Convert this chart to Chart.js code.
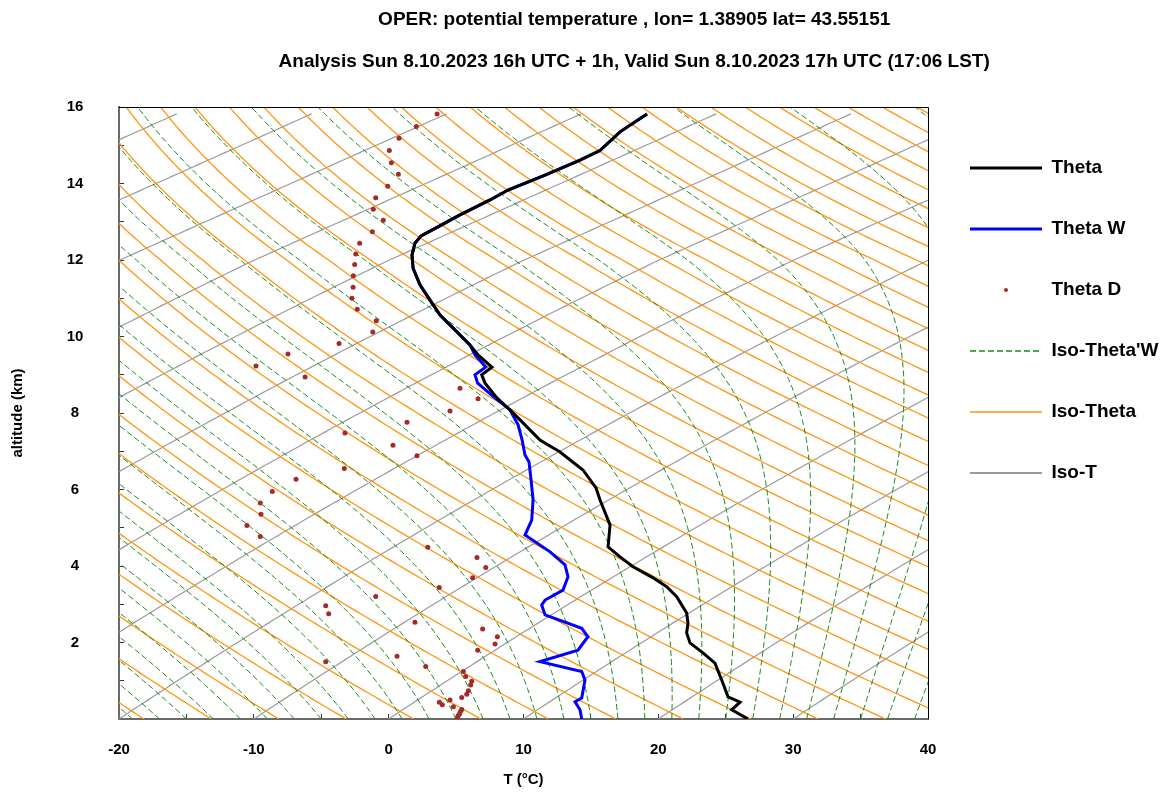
<!DOCTYPE html>
<html>
<head>
<meta charset="utf-8">
<title>OPER potential temperature</title>
<script src="https://cdn.jsdelivr.net/npm/chart.js@4.4.0/dist/chart.umd.min.js"></script>
<style>
  html, body { margin: 0; padding: 0; background: #fff; }
  #wrap { width: 1167px; height: 792px; }
</style>
</head>
<body>
<div id="wrap"><canvas id="chart" width="1167" height="792"></canvas></div>
<script>
// --- profiles (x in axis °C, altitude in km) ---
const thetaAlt = [0, 0.24, 0.44, 0.58, 1.02, 1.46, 1.73, 1.99, 2.25, 2.51, 2.77, 3.20, 3.46, 3.69, 3.98, 4.24, 4.50, 5.07, 5.73, 6.04, 6.51, 6.98, 7.29, 7.69, 8.08, 8.39, 8.78, 9.00, 9.20, 9.52, 9.78, 10.17, 10.56, 10.95, 11.35, 11.79, 12.13, 12.44, 12.63, 12.78, 13.18, 13.57, 13.83, 14.22, 14.61, 14.86, 15.35, 15.82];
const thetaVal = [26.65, 25.44, 26.06, 25.17, 24.70, 24.20, 23.31, 22.35, 22.10, 22.20, 22.10, 21.36, 20.62, 19.61, 18.12, 17.16, 16.27, 16.42, 15.67, 15.38, 14.41, 12.71, 11.22, 10.11, 9.00, 8.04, 7.15, 6.90, 7.66, 6.63, 6.03, 4.92, 3.81, 3.07, 2.32, 1.81, 1.73, 1.95, 2.40, 3.21, 5.29, 7.52, 8.85, 11.60, 14.19, 15.67, 17.16, 19.16];

const thetaWAlt = [0, 0.24, 0.45, 0.55, 1.02, 1.24, 1.50, 1.80, 2.15, 2.37, 2.72, 2.98, 3.11, 3.37, 3.72, 4.03, 4.37, 4.81, 5.20, 5.73, 6.25, 6.72, 6.90, 7.29, 7.69, 8.08, 8.39, 8.78, 9.00, 9.20, 9.52, 9.78, 10.17, 10.56, 10.95, 11.35, 11.79, 12.13, 12.44, 12.63, 12.78, 13.18, 13.57, 13.83, 14.22, 14.61, 14.86, 15.35, 15.82];
const thetaWVal = [14.32, 14.19, 13.82, 14.32, 14.56, 14.32, 11.22, 14.04, 14.78, 14.32, 11.60, 11.35, 11.60, 12.93, 13.30, 13.08, 11.97, 10.11, 10.61, 10.71, 10.56, 10.41, 10.11, 9.90, 9.60, 9.00, 7.90, 6.60, 6.40, 7.20, 6.40, 6.03, 4.92, 3.81, 3.07, 2.32, 1.81, 1.73, 1.95, 2.40, 3.21, 5.29, 7.52, 8.85, 11.60, 14.19, 15.67, 17.16, 19.16];

const thetaDAlt = [0, 0.04, 0.09, 0.14, 0.20, 0.25, 0.32, 0.37, 0.44, 0.50, 0.56, 0.65, 0.74, 0.89, 0.99, 1.11, 1.24, 1.37, 1.50, 1.64, 1.80, 1.96, 2.15, 2.35, 2.53, 2.75, 2.96, 3.20, 3.44, 3.69, 3.96, 4.22, 4.49, 4.77, 5.06, 5.35, 5.65, 5.95, 6.27, 6.55, 6.88, 7.16, 7.48, 7.76, 8.05, 8.37, 8.65, 8.94, 9.23, 9.54, 9.82, 10.12, 10.41, 10.71, 11.00, 11.29, 11.59, 11.88, 12.16, 12.44, 12.74, 13.04, 13.33, 13.63, 13.93, 14.24, 14.54, 14.86, 15.18, 15.49, 15.82];
const thetaDVal = [5.05, 5.10, 5.17, 5.26, 5.33, 5.42, 4.80, 3.98, 3.76, 4.55, 5.42, 5.79, 5.91, 6.08, 6.16, 5.71, 5.54, 2.75, -4.67, 0.62, 6.60, 7.89, 8.06, 6.97, 1.95, -4.45, -4.67, -0.96, 3.75, 6.23, 7.20, 6.55, 2.90, -9.52, -10.51, -9.47, -9.52, -8.63, -6.87, -3.29, 2.10, 0.32, -3.24, 1.36, 4.55, 6.63, 5.29, -6.20, -9.84, -7.47, -3.68, -1.18, -0.92, -2.33, -2.72, -2.64, -2.62, -2.52, -2.44, -2.15, -1.21, -0.40, -1.14, -0.96, -0.07, 0.72, 0.20, 0.05, 0.77, 2.05, 3.59];

// --- background isolines (values of each family) ---
const isoTValues = [-100, -90, -80, -70, -60, -50, -40, -30, -20, -10, 0, 10, 20, 30, 40];
const isoThetaValues = [250, 255, 260, 265, 270, 275, 280, 285, 290, 295, 300, 305, 310, 315, 320, 325, 330, 335, 340, 345, 350, 355, 360, 365, 370, 375, 380, 385, 390, 395, 400, 405, 410, 415, 420, 425, 430, 435, 440, 445];
const isoThetaWValues = [-19, -17, -15, -13, -11, -9, -7, -5, -3, -1, 1, 3, 5, 7, 9, 11, 13, 15, 17, 19, 21, 23, 25, 27, 29, 31, 33, 35, 37, 39];

const titleLines = [
  'OPER: potential temperature , lon= 1.38905 lat= 43.55151',
  'Analysis Sun 8.10.2023 16h UTC + 1h, Valid Sun 8.10.2023 17h UTC (17:06 LST)'
];

// --- diagram geometry: skewed axis, x = T + SKEW * ln(1000/p) ---
const G = 9.80665, RD = 287.05, CP = 1005.7, LV = 2.501e6, EPS = 0.622, KAPPA = RD / CP;
const SKEW = 36.2;
const Z_TROP = 12, T_STRAT = 195;

function lnP(z) {
  const zz = Math.min(z, Z_TROP);
  let v = -(G / (RD * 0.0065)) * Math.log(1 - 6.5 * zz / 288.15);
  if (z > Z_TROP) v += G * (z - Z_TROP) * 1000 / (RD * T_STRAT);
  return v;
}
const skew = z => SKEW * lnP(z);
const pres = z => 1000 * Math.exp(-lnP(z));

const zSteps = [];
for (let i = 0; i <= 160; i++) zSteps.push(i / 10);
const zTop = thetaAlt[thetaAlt.length - 1];

function dTdp(T, p) {
  const tc = T - 273.15;
  const es = 6.112 * Math.exp(17.67 * tc / (tc + 243.5));
  const rs = EPS * es / (p - es);
  return (RD * T + LV * rs) / (CP + LV * LV * rs * EPS / (RD * T * T)) / p;
}

function isoTLine(t) {
  const zs = zSteps.filter(z => z < zTop).concat([zTop]);
  return zs.map(z => ({x: t + skew(z), y: z}));
}
function isoThetaLine(th) {
  return zSteps.map(z => ({x: th * Math.exp(-KAPPA * lnP(z)) - 273.15 + skew(z), y: z}));
}
function isoThetaWLine(tw) {
  let T = tw + 273.15, p = 1000;
  const pts = [];
  zSteps.forEach(z => {
    const pz = pres(z), n = 6, h = (pz - p) / n;
    for (let i = 0; i < n; i++) {
      const k1 = dTdp(T, p);
      const k2 = dTdp(T + h * k1 / 2, p + h / 2);
      const k3 = dTdp(T + h * k2 / 2, p + h / 2);
      const k4 = dTdp(T + h * k3, p + h);
      T += h * (k1 + 2 * k2 + 2 * k3 + k4) / 6;
      p += h;
    }
    p = pz;
    pts.push({x: T - 273.15 + skew(z), y: z});
  });
  return pts;
}

const zip = (xs, ys) => xs.map((x, i) => ({x: x, y: ys[i]}));

const FONT = "'Liberation Sans', Arial, sans-serif";

const datasets = [
  {label: 'Theta', data: zip(thetaVal, thetaAlt), showLine: true, borderColor: '#000', borderWidth: 3, pointRadius: 0, pointStyle: 'line'},
  {label: 'Theta W', data: zip(thetaWVal, thetaWAlt), showLine: true, borderColor: '#0000ff', borderWidth: 3, pointRadius: 0, pointStyle: 'line'},
  {label: 'Theta D', data: zip(thetaDVal, thetaDAlt), showLine: false, pointRadius: 2.5, pointHoverRadius: 2.5, backgroundColor: '#a52a2a', borderWidth: 0, pointStyle: 'circle'}
];
isoThetaWValues.forEach((v, i) => datasets.push({
  label: "Iso-Theta'W", data: isoThetaWLine(v), showLine: true, borderColor: '#1a8a1a', borderWidth: 1,
  borderDash: [6, 3], pointRadius: 0, pointStyle: 'line', inLegend: i === 0, legendWidth: 1.5
}));
isoThetaValues.forEach((v, i) => datasets.push({
  label: 'Iso-Theta', data: isoThetaLine(v), showLine: true, borderColor: '#ff9512', borderWidth: 1.3,
  pointRadius: 0, pointStyle: 'line', inLegend: i === 0, legendWidth: 1.5
}));
isoTValues.forEach((v, i) => datasets.push({
  label: 'Iso-T', data: isoTLine(v), showLine: true, borderColor: '#9a9a9a', borderWidth: 1.2,
  pointRadius: 0, pointStyle: 'line', inLegend: i === 0, legendWidth: 2
}));

const dot = document.createElement('canvas');
dot.width = 6; dot.height = 6;
const dctx = dot.getContext('2d');
dctx.fillStyle = '#a52a2a';
dctx.beginPath(); dctx.arc(3, 3, 2, 0, Math.PI * 2); dctx.fill();

const framePlugin = {
  id: 'frame',
  afterDatasetsDraw(chart) {
    const {ctx, chartArea: a} = chart;
    ctx.save();
    ctx.strokeStyle = '#000';
    ctx.lineWidth = 1;
    ctx.beginPath();
    ctx.moveTo(a.left, a.top + 0.5);
    ctx.lineTo(a.right + 0.5, a.top + 0.5);
    ctx.lineTo(a.right + 0.5, a.bottom);
    ctx.stroke();
    ctx.restore();
  }
};

const chart = new Chart(document.getElementById('chart'), {
  type: 'scatter',
  data: {datasets},
  plugins: [framePlugin],
  options: {
    responsive: false,
    animation: false,
    events: [],
    layout: {padding: {left: 100, right: 0, top: 0, bottom: 0}},
    elements: {line: {tension: 0}},
    plugins: {
      tooltip: {enabled: false},
      title: {display: true, text: titleLines[0], color: '#000', font: {family: FONT, size: 19, weight: 'bold', lineHeight: 1.2}, padding: {top: 8.6, bottom: 0}},
      subtitle: {display: true, text: titleLines[1], color: '#000', font: {family: FONT, size: 19, weight: 'bold', lineHeight: 1.2}, padding: {top: 19.2, bottom: 33.6}},
      legend: {
        position: 'right',
        align: 'start',
        fullSize: false,
        title: {display: true, text: '', font: {size: 1, lineHeight: 1}, padding: {top: 8.5, bottom: 0}},
        labels: {
          usePointStyle: true,
          pointStyleWidth: 72,
          padding: 42,
          color: '#000',
          font: {family: FONT, size: 19, weight: 'bold'},
          filter: (item, data) => data.datasets[item.datasetIndex].inLegend !== false,
          generateLabels(c) {
            const items = Chart.defaults.plugins.legend.labels.generateLabels(c);
            items.forEach(it => {
              const ds = c.data.datasets[it.datasetIndex];
              if (it.text === 'Theta D') it.pointStyle = dot;
              if (ds.borderDash) it.lineDash = ds.borderDash;
              if (ds.legendWidth) it.lineWidth = ds.legendWidth;
            });
            return items;
          }
        }
      }
    },
    scales: {
      x: {
        type: 'linear', min: -20, max: 40,
        afterFit: s => { s.height = 73; },
        border: {display: true, color: '#6a6a6a', width: 2},
        grid: {drawOnChartArea: false, drawTicks: true, tickLength: -5, color: '#333', lineWidth: 1},
        ticks: {stepSize: 5, padding: 27, maxRotation: 0, autoSkip: false, color: '#000',
          font: {family: FONT, size: 15, weight: 'bold'},
          callback: v => (v % 10 === 0 ? v : '')},
        title: {display: true, text: 'T (°C)', color: '#000', font: {family: FONT, size: 15, weight: 'bold', lineHeight: 1.2}, padding: {top: 0, bottom: 3}}
      },
      y: {
        type: 'linear', min: 0, max: 16,
        afterFit: s => { s.width = 19; },
        border: {display: true, color: '#6a6a6a', width: 2},
        grid: {drawOnChartArea: false, drawTicks: true, tickLength: -5, color: '#333', lineWidth: 1},
        ticks: {stepSize: 1, mirror: true, crossAlign: 'center', padding: -52.3, autoSkip: false, color: '#000',
          font: {family: FONT, size: 15, weight: 'bold'},
          callback: v => (v % 2 === 0 && v > 0 ? v : '')},
        title: {display: true, text: 'altitude (km)', color: '#000', font: {family: FONT, size: 15, weight: 'bold', lineHeight: 1.2}, padding: {top: -91, bottom: 0}}
      }
    }
  }
});

// keep the plot frame's right edge where the reference has it
const shift = chart.chartArea.right - 928;
if (Math.abs(shift) > 0.5) {
  chart.options.layout.padding = {left: 100, right: shift, top: 0, bottom: 0};
  chart.update();
}
</script>
</body>
</html>
